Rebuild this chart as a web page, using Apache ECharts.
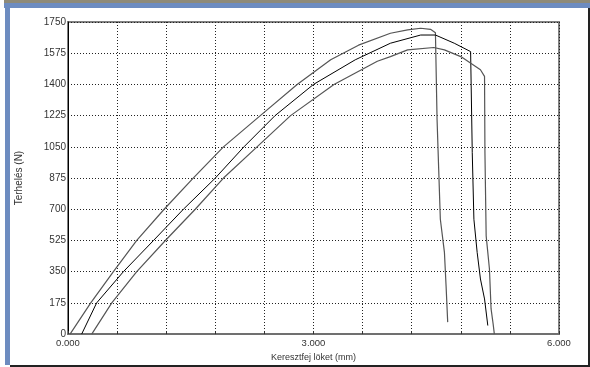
<!DOCTYPE html>
<html>
<head>
<meta charset="utf-8">
<script src="https://cdn.jsdelivr.net/npm/echarts@6/dist/echarts.min.js"></script>
<style>
  html, body { margin: 0; padding: 0; background: #fff; }
  #chart { width: 590px; height: 367px; }
</style>
</head>
<body>
<div id="chart"></div>
<script>
// tengelyek
const xMin = 0, xMax = 6, xStep = 0.6;
const yMin = 0, yMax = 1750, yStep = 175;
const xLabelsShown = [0, 3, 6];

// három mérés: [löket mm, terhelés N]
const curveTop = [
  [0.025, 0], [0.278, 175], [0.555, 350], [0.84, 525], [1.175, 700], [1.53, 875],
  [1.90, 1050], [2.35, 1225], [2.80, 1400], [3.21, 1538], [3.55, 1620], [3.94, 1687],
  [4.15, 1706], [4.31, 1715], [4.43, 1709], [4.49, 1690], [4.51, 1203], [4.53, 923],
  [4.55, 644], [4.60, 458], [4.62, 271], [4.64, 67]
];
const curveMid = [
  [0.167, 0], [0.35, 175], [0.677, 350], [1.045, 525], [1.41, 700], [1.80, 875],
  [2.15, 1050], [2.53, 1225], [3.0, 1400], [3.51, 1538], [3.94, 1631], [4.31, 1677],
  [4.49, 1677], [4.72, 1631], [4.92, 1584], [4.94, 1017], [4.96, 644], [5.0, 458],
  [5.04, 309], [5.09, 197], [5.13, 48]
];
const curveLow = [
  [0.29, 0], [0.535, 175], [0.84, 350], [1.19, 525], [1.555, 700], [1.90, 875],
  [2.31, 1050], [2.72, 1225], [3.25, 1400], [3.78, 1530], [3.94, 1556], [4.15, 1594],
  [4.47, 1607], [4.60, 1594], [4.80, 1556], [5.04, 1482], [5.09, 1445], [5.095, 1017],
  [5.11, 551], [5.15, 365], [5.17, 141], [5.19, 141], [5.195, 57], [5.21, 0]
];

const chart = echarts.init(document.getElementById('chart'));

const mkLine = (name, data, color, width) => ({
  name, type: 'line', data,
  showSymbol: false, symbol: 'none',
  lineStyle: { color, width, join: 'round' },
  animation: false,
  z: 5
});

chart.setOption({
  animation: false,
  backgroundColor: '#fff',
  textStyle: { fontFamily: 'Liberation Sans, Arial, sans-serif' },
  grid: { left: 68, right: 31, top: 22, bottom: 32, show: true, borderColor: '#808080', borderWidth: 2 },
  xAxis: {
    type: 'value', min: xMin, max: xMax, interval: xStep,
    name: 'Keresztfej löket (mm)', nameLocation: 'middle', nameGap: 18,
    nameTextStyle: { fontSize: 9, color: '#333' },
    axisLine: { lineStyle: { color: '#707070', width: 2 } },
    axisTick: { show: true, inside: true, length: 3, lineStyle: { color: '#333' } },
    axisLabel: {
      fontSize: 9.5, color: '#333', margin: 4, showMinLabel: true, showMaxLabel: true,
      formatter: v => xLabelsShown.some(t => Math.abs(t - v) < 1e-6) ? v.toFixed(3) : ''
    },
    splitLine: { show: true, lineStyle: { color: '#222', type: [1, 2], width: 1 } }
  },
  yAxis: {
    type: 'value', min: yMin, max: yMax, interval: yStep,
    name: 'Terhelés (N)', nameLocation: 'middle', nameGap: 44, nameRotate: 90,
    nameTextStyle: { fontSize: 10, color: '#333' },
    axisLine: { show: true, lineStyle: { color: '#000', width: 1 } },
    axisTick: { show: false },
    axisLabel: {
      fontSize: 10, color: '#333', margin: 2, padding: [0, 0, 7, 0],
      formatter: v => String(Math.round(v))
    },
    splitLine: { show: true, lineStyle: { color: '#222', type: [1, 2], width: 1 } }
  },
  graphic: [
    { type: 'rect', shape: { x: 4, y: 0, width: 586, height: 3 }, style: { fill: '#8e8a78' }, silent: true },
    { type: 'rect', shape: { x: 4, y: 3, width: 586, height: 5 }, style: { fill: '#6d8cc0' }, silent: true },
    { type: 'rect', shape: { x: 5, y: 3, width: 5, height: 362 }, style: { fill: '#6d8cc0' }, silent: true },
    { type: 'rect', shape: { x: 10, y: 365, width: 580, height: 2 }, style: { fill: '#222' }, silent: true },
    { type: 'rect', shape: { x: 588, y: 8, width: 2, height: 359 }, style: { fill: '#222' }, silent: true }
  ],
  series: [
    mkLine('1', curveTop, '#555', 1.2),
    mkLine('2', curveMid, '#000', 1),
    mkLine('3', curveLow, '#555', 1.2)
  ]
});
</script>
</body>
</html>
